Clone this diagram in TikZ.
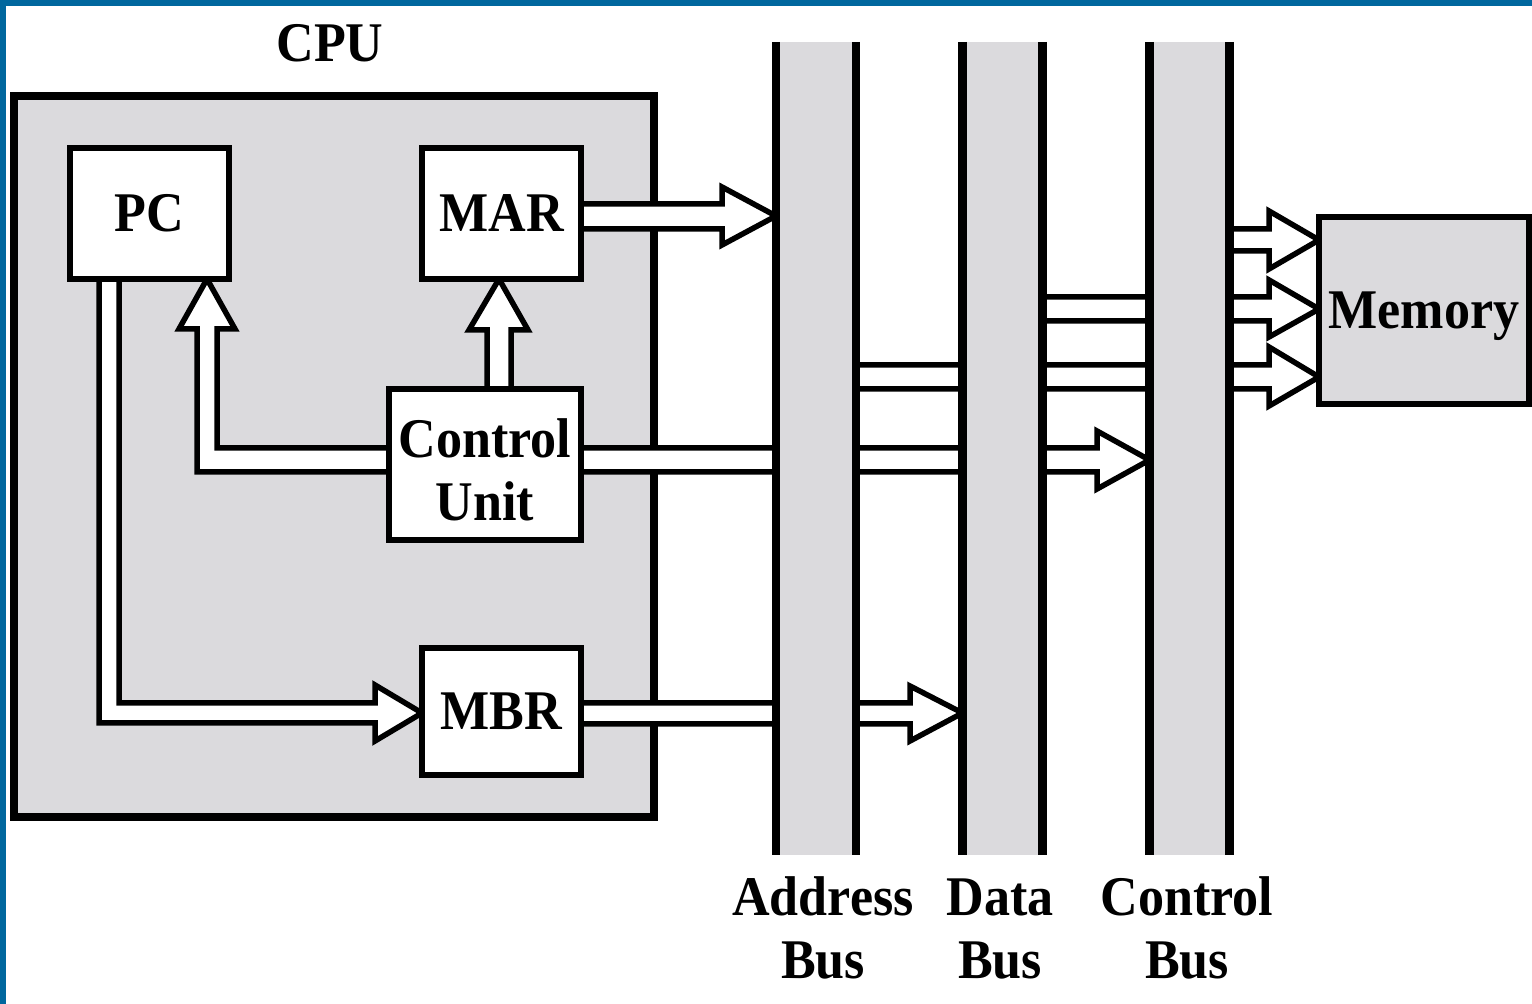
\documentclass[tikz,border=0pt]{standalone}
\usepackage{fontspec}
\setmainfont{Liberation Serif}[FakeStretch=0.93]
\usetikzlibrary{calc}
\definecolor{frameblue}{RGB}{0,103,158}
\definecolor{panelgrey}{RGB}{219,218,221}
\begin{document}
\begin{tikzpicture}[x=0.5pt,y=-0.5pt,
  lbl/.style={font=\bfseries\fontsize{28}{31.5}\selectfont, inner sep=0pt, outer sep=0pt},
  regbox/.style={lbl, rectangle, draw=black, line width=2.9pt, fill=white,
    minimum width=79.5pt, minimum height=65.5pt, text height=18.5pt, text depth=0pt},
  cpubox/.style={rectangle, draw=black, line width=4.25pt, fill=panelgrey,
    inner sep=0pt, outer sep=0pt},
  busband/.style={rectangle, draw=none, inner sep=0pt, outer sep=0pt,
    minimum width=40pt, minimum height=406.5pt},
  busline/.style={draw=black, line width=4.25pt},
  blockarrow/.style={draw=black, fill=white, line width=2.75pt, line join=miter},
  buslabel/.style={lbl, align=center, anchor=north}
]
% canvas and frame
\useasboundingbox (0,0) rectangle (1532,1004);
\fill[white] (0,0) rectangle (1532,1004);
\fill[frameblue] (0,0) rectangle (1532,6);
\fill[frameblue] (0,0) rectangle (6,1004);

% CPU enclosure
\node[cpubox, minimum width=320pt, minimum height=360.5pt] (cpu) at (334,456.5) {};
\node[lbl, anchor=base] (cpulabel) at (330,62) {CPU};

% placement of buses and boxes (drawn later, on top of the arrows)
\path node[busband] (addr) at (816,448.5) {}
      node[busband] (data) at (1002.5,448.5) {}
      node[busband] (ctrl) at (1189.5,448.5) {};
\path node[rectangle, inner sep=0pt, outer sep=0pt, minimum width=79.5pt, minimum height=65.5pt] (pc0) at (149.5,213.5) {}
      node[rectangle, inner sep=0pt, outer sep=0pt, minimum width=79.5pt, minimum height=65.5pt] (mar0) at (501.5,213.5) {}
      node[rectangle, inner sep=0pt, outer sep=0pt, minimum width=96pt, minimum height=75.5pt] (cu0) at (485,464.5) {}
      node[rectangle, inner sep=0pt, outer sep=0pt, minimum width=79.5pt, minimum height=63.5pt] (mbr0) at (501.5,711.5) {}
      node[rectangle, inner sep=0pt, outer sep=0pt, minimum width=105pt, minimum height=93.5pt] (mem0) at (1424,310.5) {};

% block arrows
% Control Unit -> PC
\draw[blockarrow] (cu0.west |- 0,448) -- (217,448) -- (217,329) -- (235,329)
  -- (207,0 |- pc0.south) -- (179,329) -- (197,329) -- (197,472) -- (cu0.west |- 0,472) -- cycle;
% Control Unit -> MAR
\draw[blockarrow] (487,0 |- cu0.north) -- (487,330) -- (469,330) -- (499,0 |- mar0.south)
  -- (528,330) -- (511,330) -- (511,0 |- cu0.north) -- cycle;
% PC -> MBR
\draw[blockarrow] (99,0 |- pc0.south) -- (99,723) -- (375,723) -- (375,741)
  -- (mbr0.west |- 0,713) -- (375,685) -- (375,703) -- (119,703) -- (119,0 |- pc0.south) -- cycle;
% MAR -> Address bus
\draw[blockarrow] (mar0.east |- 0,204) -- (722,204) -- (722,187) -- (addr.west |- 0,216)
  -- (722,245) -- (722,229) -- (mar0.east |- 0,229) -- cycle;
% Control Unit -> Control bus
\draw[blockarrow] (cu0.east |- 0,448) -- (1097,448) -- (1097,431) -- (ctrl.west |- 0,460)
  -- (1097,489) -- (1097,472) -- (cu0.east |- 0,472) -- cycle;
% MBR -> Data bus
\draw[blockarrow] (mbr0.east |- 0,703) -- (910,703) -- (910,686) -- (data.west |- 0,713)
  -- (910,741) -- (910,724) -- (mbr0.east |- 0,724) -- cycle;
% Address bus -> Memory
\draw[blockarrow] (addr.east |- 0,365) -- (1269,365) -- (1269,347) -- (mem0.west |- 0,377)
  -- (1269,406) -- (1269,389) -- (addr.east |- 0,389) -- cycle;
% Data bus -> Memory
\draw[blockarrow] (data.east |- 0,297) -- (1269,297) -- (1269,280) -- (mem0.west |- 0,309)
  -- (1269,337) -- (1269,321) -- (data.east |- 0,321) -- cycle;
% Control bus -> Memory
\draw[blockarrow] (ctrl.east |- 0,229) -- (1269,229) -- (1269,211) -- (mem0.west |- 0,240)
  -- (1269,269) -- (1269,251) -- (ctrl.east |- 0,251) -- cycle;

% registers
\node[regbox] (pc) at (pc0) {PC};
\node[regbox] (mar) at (mar0) {MAR};
\node[lbl, rectangle, draw=black, line width=2.9pt, fill=white, align=center,
  minimum width=96pt, minimum height=75.5pt] (cu) at (cu0) {\rule{0pt}{24.5pt}Control\\Unit};
\node[regbox, minimum height=63.5pt] (mbr) at (mbr0) {MBR};

% buses
\foreach \b in {addr,data,ctrl}{
  \fill[panelgrey] (\b.north west) rectangle (\b.south east);
  \draw[busline] (\b.north west) -- (\b.south west);
  \draw[busline] (\b.north east) -- (\b.south east);
}

% memory
\node[regbox, fill=panelgrey, minimum width=105pt, minimum height=93.5pt] (mem) at (mem0) {Memory};

% bus labels
\node[buslabel] (addrlbl) at (823,877) {\rule{0pt}{19.2pt}Address\\Bus};
\node[buslabel] (datalbl) at (1000,877) {\rule{0pt}{19.2pt}Data\\Bus};
\node[buslabel] (ctrllbl) at (1187,877) {\rule{0pt}{19.2pt}Control\\Bus};
\end{tikzpicture}
\end{document}
